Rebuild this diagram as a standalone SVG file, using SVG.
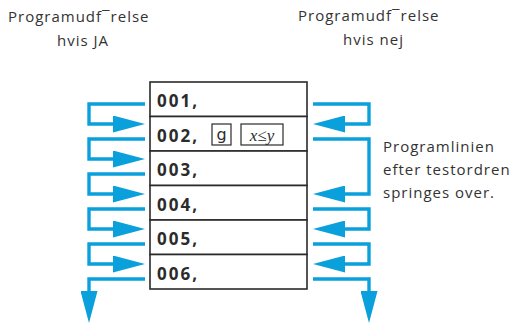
<svg xmlns="http://www.w3.org/2000/svg" width="511" height="323" viewBox="0 0 511 323">
<style>
.lbl{font-family:"Open Sans","DejaVu Sans",sans-serif;font-size:15px;fill:#333;letter-spacing:1px}
.code{font-family:"Open Sans","DejaVu Sans",sans-serif;font-size:17px;font-weight:bold;fill:#2b2b2b;letter-spacing:2px}
.row{fill:#fff;stroke:#2b2b2b;stroke-width:1.6}
.key{fill:#fff;stroke:#2b2b2b;stroke-width:1.2}
.con{fill:none;stroke:#0aa0dc;stroke-width:3.4}
</style>
<defs>
<marker id="ah" viewBox="0 0 32 17" refX="0" refY="8.5" markerWidth="32" markerHeight="17" markerUnits="userSpaceOnUse" orient="auto">
<path d="M0,0 L32,8.5 L0,17 z" fill="#0aa0dc"/>
</marker>
</defs>
<g id="title-ja">
<text class="lbl" x="8" y="22">Programudf¯relse</text>
<text class="lbl" x="57" y="46">hvis JA</text>
</g>
<g id="title-nej">
<text class="lbl" x="298" y="21">Programudf¯relse</text>
<text class="lbl" x="343" y="45">hvis nej</text>
</g>
<g id="row1"><rect class="row" x="150" y="82" width="157" height="34.5"/><text class="code" x="157" y="107">001,</text></g>
<g id="row2"><rect class="row" x="150" y="116.5" width="157" height="34.5"/><text class="code" x="157" y="141.5">002,</text>
<rect class="key" x="212" y="124" width="19" height="21"/><text x="221.5" y="140" text-anchor="middle" style="font-family:'DejaVu Sans',sans-serif;font-size:16px;fill:#2b2b2b">g</text>
<rect class="key" x="241" y="124" width="42" height="21"/><text x="262" y="140.5" text-anchor="middle" style="font-family:'Liberation Serif',serif;font-size:17px;font-style:italic;fill:#2b2b2b">x≤y</text></g>
<g id="row3"><rect class="row" x="150" y="151" width="157" height="34.5"/><text class="code" x="157" y="176">003,</text></g>
<g id="row4"><rect class="row" x="150" y="185.5" width="157" height="34.5"/><text class="code" x="157" y="210.5">004,</text></g>
<g id="row5"><rect class="row" x="150" y="220" width="157" height="34.5"/><text class="code" x="157" y="245">005,</text></g>
<g id="row6"><rect class="row" x="150" y="254.5" width="157" height="34.5"/><text class="code" x="157" y="279.5">006,</text></g>
<g id="note">
<text class="lbl" x="383" y="152">Programlinien</text>
<text class="lbl" x="383" y="175">efter testordren</text>
<text class="lbl" x="383" y="198">springes over.</text>
</g>
<g id="connectors">
<path class="con" marker-end="url(#ah)" d="M145,104 H89 V124 H113"/>
<path class="con" marker-end="url(#ah)" d="M145,139 H89 V159 H113"/>
<path class="con" marker-end="url(#ah)" d="M145,174 H89 V194 H113"/>
<path class="con" marker-end="url(#ah)" d="M145,209 H89 V229 H113"/>
<path class="con" marker-end="url(#ah)" d="M145,244 H89 V264 H113"/>
<path class="con" marker-end="url(#ah)" d="M145,279 H89 V291"/>
<path class="con" marker-end="url(#ah)" d="M313,104 H369 V124 H345"/>
<path class="con" marker-end="url(#ah)" d="M313,139 H369 V194 H345"/>
<path class="con" marker-end="url(#ah)" d="M313,209 H369 V229 H345"/>
<path class="con" marker-end="url(#ah)" d="M313,244 H369 V264 H345"/>
<path class="con" marker-end="url(#ah)" d="M313,279 H369 V291"/>
</g>
</svg>
